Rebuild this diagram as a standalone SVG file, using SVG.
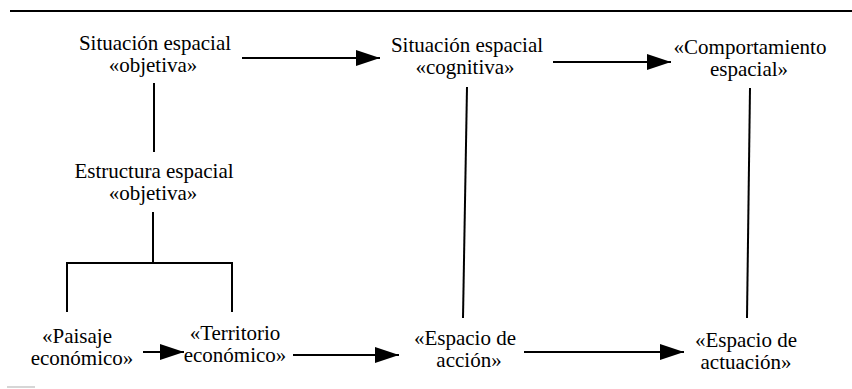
<svg xmlns="http://www.w3.org/2000/svg" width="852" height="389" viewBox="0 0 852 389">
<defs>
<marker id="ah" markerUnits="userSpaceOnUse" markerWidth="24" markerHeight="16" refX="24" refY="8" orient="auto">
<path d="M0,0 L24,8 L0,16 Z" fill="#000"/>
</marker>
<style>
text{font-family:"Liberation Serif","Times New Roman",serif;font-size:21px;fill:#000;text-anchor:middle}
.c{stroke:#000;stroke-width:2;fill:none}
.a{stroke:#000;stroke-width:2.2;fill:none;marker-end:url(#ah)}
</style>
</defs>
<rect width="852" height="389" fill="#fff"/>
<line x1="10" y1="11" x2="852" y2="11" stroke="#000" stroke-width="2"/>
<line x1="7" y1="387" x2="35" y2="387" stroke="#c8c8c8" stroke-width="1.5"/>
<g id="connectors">
<line class="a" x1="242" y1="58" x2="380" y2="58"/>
<line class="a" x1="553" y1="62" x2="671" y2="62"/>
<line class="c" x1="154" y1="83" x2="154" y2="152"/>
<line class="c" x1="153" y1="212" x2="153" y2="263"/>
<polyline class="c" points="67,312 67,263 232,263 232,312"/>
<line class="a" x1="143" y1="352" x2="184" y2="352"/>
<line class="a" x1="293" y1="355" x2="399" y2="355"/>
<line class="a" x1="524" y1="352" x2="684" y2="352"/>
<line class="c" x1="467" y1="87" x2="463" y2="318"/>
<line class="c" x1="750" y1="88" x2="747" y2="318"/>
</g>
<g id="n-sit-obj"><text x="155" y="50">Situación espacial</text><text x="153" y="72">«objetiva»</text></g>
<g id="n-sit-cog"><text x="467" y="52">Situación espacial</text><text x="465" y="74">«cognitiva»</text></g>
<g id="n-comp"><text x="750" y="54">«Comportamiento</text><text x="749" y="76">espacial»</text></g>
<g id="n-estr"><text x="154" y="178">Estructura espacial</text><text x="153" y="200">«objetiva»</text></g>
<g id="n-paisaje"><text x="77" y="343">«Paisaje</text><text x="82" y="365">económico»</text></g>
<g id="n-territorio"><text x="235" y="340">«Territorio</text><text x="235" y="362">económico»</text></g>
<g id="n-accion"><text x="465" y="345">«Espacio de</text><text x="469" y="367">acción»</text></g>
<g id="n-actuacion"><text x="746" y="347">«Espacio de</text><text x="746" y="369">actuación»</text></g>
</svg>
